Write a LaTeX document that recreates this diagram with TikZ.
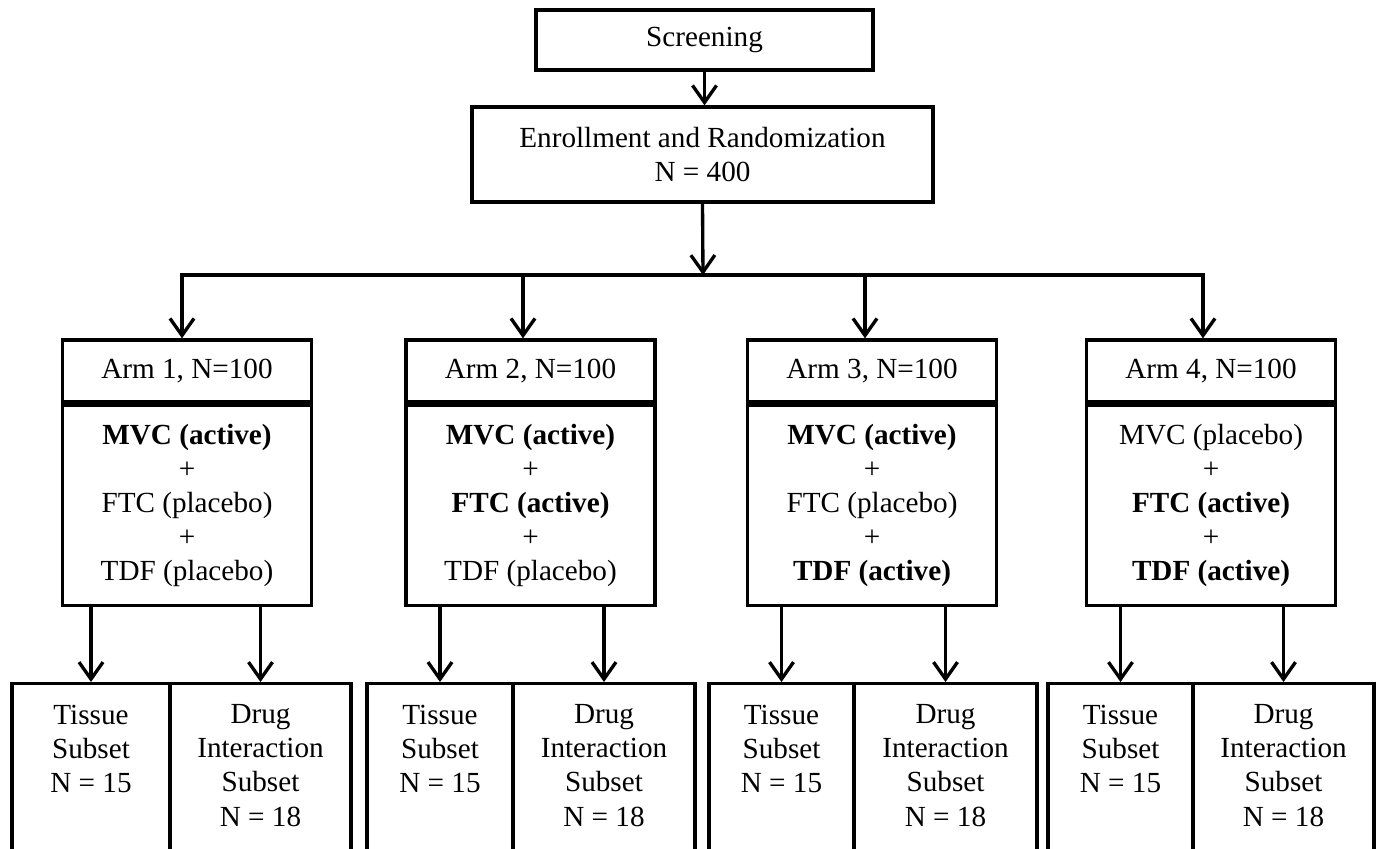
\documentclass[tikz,border=0pt]{standalone}
\usepackage{fontspec}
\setmainfont{Liberation Serif}
\usetikzlibrary{arrows.meta, calc, positioning}

\newcommand{\subtxt}[2]{\parbox[c][3.6cm][t]{#1}{\centering #2}}

\begin{document}
\begin{tikzpicture}[>={Straight Barb[length=3.4mm, width=4.8mm]}, line width=1.9pt,
  every node/.style={font=\fontsize{16.6}{19.4}\selectfont},
  box/.style={draw, align=center, inner sep=0pt},
  armhead/.style={box, minimum width=4.98cm, minimum height=1.24cm},
  armbody/.style={box, minimum width=4.98cm, minimum height=4cm, anchor=north},
  subset/.style={draw, anchor=north, inner xsep=0pt, inner ysep=0.42cm}]
  \path[use as bounding box, clip] (0,0) rectangle (27.54,-16.96);

  \node[box, minimum width=6.74cm, minimum height=1.2cm] (screen) at (14.09,-0.8) {Screening};
  \node[box, minimum width=9.22cm, minimum height=1.9cm] (enroll) at (14.05,-3.09) {Enrollment and Randomization\\N = 400};
  \coordinate (split) at (14.06,-5.5);
  \draw[->] (screen.south) -- (screen.south |- enroll.north);
  \draw[->] (enroll.south) -- (split);

  % the four arms
  \node[armhead] (arm1) at (3.74,-7.42) {Arm 1, N=100};
  \node[armhead] (arm2) at (10.61,-7.42) {Arm 2, N=100};
  \node[armhead] (arm3) at (17.44,-7.42) {Arm 3, N=100};
  \node[armhead] (arm4) at (24.22,-7.42) {Arm 4, N=100};
  \node[armbody] (body1) at (arm1.south) {\textbf{MVC (active)}\\+\\FTC (placebo)\\+\\TDF (placebo)};
  \node[armbody] (body2) at (arm2.south) {\textbf{MVC (active)}\\+\\\textbf{FTC (active)}\\+\\TDF (placebo)};
  \node[armbody] (body3) at (arm3.south) {\textbf{MVC (active)}\\+\\FTC (placebo)\\+\\\textbf{TDF (active)}};
  \node[armbody] (body4) at (arm4.south) {MVC (placebo)\\+\\\textbf{FTC (active)}\\+\\\textbf{TDF (active)}};
  \draw[->] (split) -| ($(arm1.north)+(-0.10,0)$);
  \draw[->] (split) -| ($(arm2.north)+(-0.15,0)$);
  \draw[->] (split) -| ($(arm3.north)+(-0.14,0)$);
  \draw[->] (split) -| ($(arm4.north)+(-0.16,0)$);

  % subsets
  \node[subset] (tis1) at (1.82,-13.64) {\subtxt{3.16cm}{Tissue\\Subset\\N = 15}};
  \node[subset] (drug1) at (5.21,-13.64) {\subtxt{3.62cm}{Drug\\Interaction\\Subset\\N = 18}};
  \node[subset] (tis2) at (8.80,-13.64) {\subtxt{2.92cm}{Tissue\\Subset\\N = 15}};
  \node[subset] (drug2) at (12.08,-13.64) {\subtxt{3.64cm}{Drug\\Interaction\\Subset\\N = 18}};
  \node[subset] (tis3) at (15.63,-13.64) {\subtxt{2.90cm}{Tissue\\Subset\\N = 15}};
  \node[subset] (drug3) at (18.91,-13.64) {\subtxt{3.66cm}{Drug\\Interaction\\Subset\\N = 18}};
  \node[subset] (tis4) at (22.41,-13.64) {\subtxt{2.90cm}{Tissue\\Subset\\N = 15}};
  \node[subset] (drug4) at (25.67,-13.64) {\subtxt{3.62cm}{Drug\\Interaction\\Subset\\N = 18}};
  \draw[->] (body1.south -| tis1.north) -- (tis1.north);
  \draw[->] (body1.south -| drug1.north) -- (drug1.north);
  \draw[->] (body2.south -| tis2.north) -- (tis2.north);
  \draw[->] (body2.south -| drug2.north) -- (drug2.north);
  \draw[->] (body3.south -| tis3.north) -- (tis3.north);
  \draw[->] (body3.south -| drug3.north) -- (drug3.north);
  \draw[->] (body4.south -| tis4.north) -- (tis4.north);
  \draw[->] (body4.south -| drug4.north) -- (drug4.north);
\end{tikzpicture}
\end{document}
